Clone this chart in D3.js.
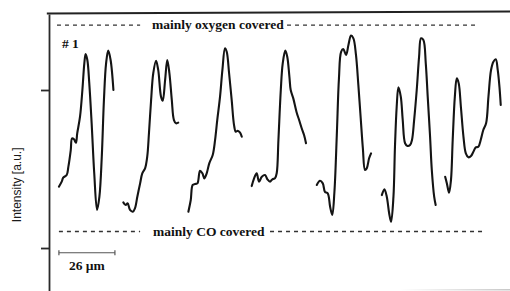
<!DOCTYPE html>
<html>
<head>
<meta charset="utf-8">
<script src="https://cdn.jsdelivr.net/npm/d3@7"></script>
<style>
  body { margin: 0; background: #fff; }
  svg { display: block; }
  .trace { fill: none; stroke: #141414; stroke-width: 2.1; stroke-linejoin: round; stroke-linecap: round; }
  .level { stroke: #333; stroke-width: 1.3; stroke-dasharray: 4,4; }
  .lbl { font-family: 'Liberation Serif', 'Times New Roman', serif; font-weight: bold; font-size: 13.5px; fill: #111; }
  .axis path, .axis line { stroke: #2a2a2a; stroke-width: 1.8; }
</style>
</head>
<body>
<svg id="chart" width="510" height="291"></svg>
<script>

// line profiles, [position in um, intensity in a.u.]
var PROFILE_1 = [[4.6,38.8],[5.9,42.0],[6.6,44.5],[8.2,46.2],[9.0,51.5],[10.1,62.0],[10.7,69.4],[11.6,68.8],[12.5,66.6],[13.1,72.6],[14.4,83.1],[15.5,100],[16.4,116.9],[17.0,122.8],[17.8,119.0],[18.7,104.2],[19.8,78.9],[21.0,47.3],[22.3,24.1],[23.4,32.5],[24.5,57.8],[25.5,93.7],[26.5,116.9],[27.5,124.9],[28.6,119.0],[29.9,100]];
var PROFILE_2 = [[34.5,28.9],[35.6,27.2],[36.5,28.3],[37.6,24.1],[38.9,23.0],[39.9,25.1],[41.0,32.5],[42.3,40.9],[43.3,47.3],[44.6,50.4],[45.6,57.8],[46.4,72.6],[47.4,93.7],[48.4,110.6],[49.7,118.5],[50.7,112.7],[52.0,95.8],[52.8,93.2],[53.9,106.3],[54.9,119.0],[55.9,110.6],[57.0,93.7],[58.0,81.0],[59.0,78.9],[60.0,79.3]];
var PROFILE_3 = [[64.7,23.0],[65.8,30.4],[66.7,39.9],[67.8,40.5],[68.9,40.9],[70.1,48.9],[71.2,47.3],[72.1,44.1],[73.2,47.3],[74.4,53.6],[76.0,58.9],[77.1,68.4],[78.1,81.0],[79.4,95.8],[80.5,112.7],[81.7,126.4],[82.5,124.2],[83.6,110.6],[84.8,93.7],[85.9,77.8],[86.7,73.6],[87.6,74.2],[88.7,73.0],[89.5,70.4]];
var PROFILE_4 = [[94.1,39.2],[95.2,44.1],[96.4,47.3],[97.5,42.0],[98.8,45.1],[100.3,46.2],[101.4,43.5],[102.6,42.0],[103.7,43.5],[104.9,44.1],[105.7,47.3],[106.5,68.4],[107.6,100],[108.5,116.9],[109.7,124.9],[110.6,121.1],[111.6,108.4],[112.2,100],[113.4,94.7],[114.9,86.1],[116.1,81.0],[117.3,75.8],[118.4,71.5],[119.3,66.3]];
var PROFILE_5 = [[124.3,39.9],[125.8,42.6],[127.1,40.9],[128.1,35.6],[129.4,34.6],[130.5,26.1],[131.5,20.9],[132.5,35.6],[133.6,71.5],[134.6,107.4],[135.6,124.2],[136.6,125.9],[137.9,122.2],[139.0,128.5],[140.2,134.4],[141.3,132.7],[142.5,122.2],[143.6,103.2],[144.7,82.1],[145.7,63.1],[146.7,49.4],[147.5,50.4],[148.6,56.8],[149.5,59.9]];
var PROFILE_6 = [[154.5,33.5],[155.7,37.2],[156.8,32.5],[157.9,22.0],[158.8,16.6],[159.9,32.5],[160.6,64.1],[161.4,89.4],[162.2,101.7],[163.3,95.8],[164.2,81.0],[165.3,66.3],[166.4,64.6],[167.6,65.2],[168.5,68.4],[169.5,81.0],[170.7,100],[171.8,121.1],[172.7,132.7],[173.8,131.6],[174.9,116.9],[175.8,95.8],[176.9,70.4],[177.7,49.4],[178.8,32.5],[179.5,27.2]];
var PROFILE_7 = [[183.9,45.1],[184.7,40.9],[185.7,35.0],[186.6,43.0],[187.4,68.4],[188.4,95.8],[189.3,107.4],[190.2,104.2],[191.2,89.4],[192.4,70.4],[193.5,59.9],[194.7,57.4],[195.9,58.2],[197.0,60.9],[198.1,63.7],[199.3,64.1],[200.4,68.4],[201.6,74.7],[202.9,78.9],[204.0,95.8],[205.2,112.7],[206.3,117.9],[207.4,119.4],[208.3,112.7],[209.1,102.1],[209.7,90.5]];
var PROFILES = [PROFILE_1, PROFILE_2, PROFILE_3, PROFILE_4, PROFILE_5, PROFILE_6, PROFILE_7];

var LEVEL_NAMES = ['mainly oxygen covered', 'mainly CO covered'];
var LEVEL_VALUES = [141.1, 10.45];
var Y_TICKS = [0, 100];
var SCALE_BAR_UM = 26;
var PANEL_LABEL = '# 1';
var Y_LABEL = 'Intensity [a.u.]';

var svg = d3.select('#chart');

var x = d3.scaleLinear().domain([0, 214]).range([49, 510]);
var y = d3.scaleLinear().domain([-27.2, 148.1]).range([291, 14]);

// ----- frame -----
svg.append('line')
    .attr('x1', x(-1)).attr('x2', x(214))
    .attr('y1', y(148.1) - 0.5).attr('y2', y(148.1) - 2.5)
    .attr('stroke', '#222').attr('stroke-width', 2);

var grad = svg.append('defs').append('linearGradient').attr('id', 'fade');
grad.append('stop').attr('offset', '0%').attr('stop-color', '#fff');
grad.append('stop').attr('offset', '100%').attr('stop-color', '#c8c8c8');
svg.append('rect')
    .attr('x', x(163)).attr('y', 289)
    .attr('width', x(214) - x(163)).attr('height', 1.5)
    .attr('fill', 'url(#fade)');

svg.append('g')
    .attr('class', 'axis')
    .attr('transform', 'translate(' + x(0) + ',0)')
    .call(d3.axisLeft(y).tickValues(Y_TICKS).tickSize(8).tickSizeOuter(0).tickFormat(''));

svg.append('text')
    .attr('transform', 'translate(20.5,' + y(40) + ') rotate(-90)')
    .attr('text-anchor', 'middle')
    .style('font-family', "'Liberation Sans', Arial, sans-serif")
    .style('font-size', '12px')
    .style('fill', '#1a1a1a')
    .text(Y_LABEL);

// ----- coverage levels -----
var levelLayout = [
  { left: [3.7, 42.3], textAt: 47.8, right: [110.5, 199.6] },
  { left: [4.6, 42.3], textAt: 48.3, right: [102.6, 202.5] }
];

LEVEL_NAMES.forEach(function(name, i) {
  var lay = levelLayout[i];
  var ly = y(LEVEL_VALUES[i]);
  [lay.left, lay.right].forEach(function(seg) {
    svg.append('line')
        .attr('class', 'level')
        .attr('x1', x(seg[0])).attr('x2', x(seg[1]))
        .attr('y1', ly).attr('y2', ly);
  });
  svg.append('text')
      .attr('class', 'lbl')
      .attr('x', x(lay.textAt))
      .attr('y', ly + 4)
      .text(name);
});

svg.append('text')
    .attr('class', 'lbl')
    .attr('x', x(6))
    .attr('y', 48)
    .text(PANEL_LABEL);

// ----- profiles -----
var line = d3.line()
    .x((d) => x(d[0]))
    .y((d) => y(d[1]))
    .curve(d3.curveCatmullRom.alpha(0.5));

svg.selectAll('.trace')
    .data(PROFILES)
  .enter().append('path')
    .attr('class', 'trace')
    .attr('d', line);

// ----- scale bar -----
var barY = y(-3);
var barX0 = x(4.6), barX1 = x(4.6 + SCALE_BAR_UM);
var bar = svg.append('g').attr('stroke', '#555').attr('stroke-width', 1.2);
bar.append('line').attr('x1', barX0).attr('x2', barX1).attr('y1', barY).attr('y2', barY);
bar.append('line').attr('x1', barX0).attr('x2', barX0).attr('y1', barY - 2.5).attr('y2', barY + 2.5);
bar.append('line').attr('x1', barX1).attr('x2', barX1).attr('y1', barY - 2.5).attr('y2', barY + 2.5);

svg.append('text')
    .attr('class', 'lbl')
    .attr('x', (barX0 + barX1) / 2)
    .attr('y', barY + 17)
    .attr('text-anchor', 'middle')
    .text(SCALE_BAR_UM + ' \u00b5m');

</script>
</body>
</html>
